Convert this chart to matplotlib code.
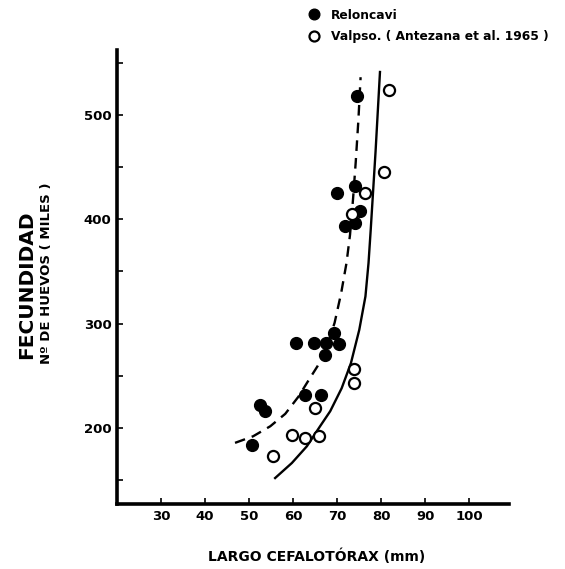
import numpy as np
import matplotlib
matplotlib.use("Agg")
import matplotlib.pyplot as plt

# Reloncavi (filled circles)
relon_x = [50.6, 52.5, 53.6, 60.6, 64.8, 67.4, 69.3, 70.5, 67.3, 62.7, 66.3,
           74.5, 69.9, 74.1, 75.1, 71.8, 74.1]
relon_y = [184, 222, 216, 281.5, 281.5, 281.5, 291, 280, 270, 232, 232,
           518, 425, 431.7, 407.8, 393, 396]

# Valparaiso (open circles)
valp_x = [55.5, 59.7, 62.7, 65.8, 65.0, 73.7, 73.7, 81.7, 80.5, 76.4, 73.3]
valp_y = [172.8, 193.6, 190.4, 192, 219, 256, 243, 524, 445, 425, 404.5]

# fitted curves
dash_x = [46.8, 50.9, 54.8, 58.2, 61.2, 63.4, 65.5, 67.4, 69.4, 70.9, 72.1,
          72.9, 73.6, 74.2, 74.8, 75.3]
dash_y = [185.7, 192, 201.6, 213.5, 230, 245, 259, 275, 300.7, 329.4, 358,
          385, 420, 455, 495, 536]
solid_x = [55.9, 59.7, 63.1, 66.1, 68.4, 71.0, 73.1, 75.0, 76.4, 77.1, 77.6,
           78.7, 79.7]
solid_y = [152, 166.4, 182.4, 201.6, 216, 238, 262, 294, 326, 358, 390,
           465, 541]

xticks = [30, 40, 50, 60, 70, 80, 90, 100]
yticks = [150, 200, 250, 300, 350, 400, 450, 500, 550]
ylabels = ["", "200", "", "300", "", "400", "", "500", ""]

plt.rcParams['font.family'] = ['DejaVu Sans']
plt.rcParams['font.weight'] = 'bold'

fig = plt.figure(figsize=(5.65, 5.69), dpi=100)
ax = fig.add_axes([0.207, 0.114, 0.694, 0.798])

ax.plot(dash_x, dash_y, color='black', lw=1.7, ls=(0, (4.5, 3)))
ax.plot(solid_x, solid_y, color='black', lw=1.7)
ax.plot(relon_x, relon_y, 'o', color='black', ms=8.5, label='Reloncavi')
ax.plot(valp_x, valp_y, 'o', mfc='white', mec='black', mew=1.6, ms=8,
        label='Valpso. ( Antezana et al. 1965 )')

ax.set_xlim(20, 109)
ax.set_ylim(127, 562)
ax.set_xticks(xticks)
ax.set_yticks(yticks)
ax.set_yticklabels(ylabels)
for s in ['top', 'right']:
    ax.spines[s].set_visible(False)
for s in ['left', 'bottom']:
    ax.spines[s].set_linewidth(2.6)
ax.tick_params(axis='both', direction='in', length=4, width=1.2,
               labelsize=9.5, pad=4)

fig.text(0.048, 0.50, "FECUNDIDAD", rotation=90, ha='center', va='center',
         fontsize=14.5, fontweight='bold')
fig.text(0.082, 0.52, "Nº DE HUEVOS ( MILES )", rotation=90, ha='center',
         va='center', fontsize=9.5, fontweight='bold')
fig.text(0.56, 0.022, "LARGO CEFALOTÓRAX (mm)", ha='center', va='center',
         fontsize=10, fontweight='bold')

ax.legend(loc='upper left', bbox_to_anchor=(0.53, 1.0),
          bbox_transform=fig.transFigure, frameon=False, fontsize=8.8,
          handletextpad=0.9, labelspacing=0.7, borderpad=0.2,
          handlelength=1.0, markerscale=0.9)

fig.savefig("out.png", dpi=100)
